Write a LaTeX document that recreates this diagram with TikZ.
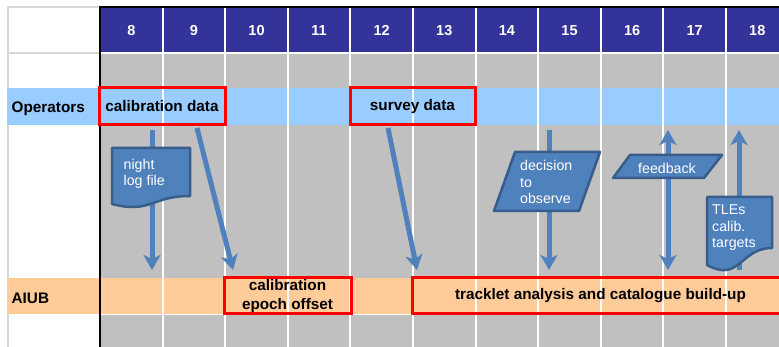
\documentclass[tikz,border=0pt]{standalone}
\usepackage{fontspec}
\setmainfont{Liberation Sans}
\usetikzlibrary{arrows.meta}
\definecolor{hdr}{RGB}{51,51,153}
\definecolor{lblue}{RGB}{153,204,255}
\definecolor{lorange}{RGB}{255,204,153}
\definecolor{cgray}{RGB}{192,192,192}
\definecolor{sfill}{RGB}{79,129,189}
\definecolor{sborder}{RGB}{56,93,138}
\definecolor{lgrid}{RGB}{217,217,217}
\tikzset{
  hdrtext/.style={text=white, font=\fontsize{14.5}{16}\selectfont\bfseries, inner sep=0pt},
  rowlabel/.style={anchor=west, font=\fontsize{15.3}{18}\selectfont\bfseries, inner sep=0pt},
  redbox/.style={draw=red, line width=3pt, font=\fontsize{15.3}{19}\selectfont\bfseries, align=center, inner sep=0pt},
  shapetext/.style={text=white, font=\fontsize{14.2}{16.5}\selectfont, align=left, inner sep=0pt},
  docshape/.style={fill=sfill, draw=sborder, line width=2.5pt, line join=round},
  bluearrow/.style={draw=sfill, line width=5pt, -{Stealth[length=15pt,width=17pt,inset=4pt]}},
  bluedarrow/.style={draw=sfill, line width=5pt, {Stealth[length=15pt,width=17pt,inset=4pt]}-{Stealth[length=15pt,width=17pt,inset=4pt]}},
}
\begin{document}
\begin{tikzpicture}[x=1pt,y=-1pt]
\useasboundingbox (0,0) rectangle (779,347);
\clip (0,0) rectangle (779,347);
\fill[white] (0,0) rectangle (779,347);
% left column borders
\draw[lgrid, line width=2pt] (8,347) -- (8,7) -- (100,7);
\draw[lgrid, line width=2pt] (8,53) -- (100,53);
% rows
\fill[hdr] (100,8) rectangle (789,52);
\fill[cgray] (100,54) rectangle (789,88);
\fill[lblue] (7,88) rectangle (789,125);
\fill[cgray] (100,125) rectangle (789,278);
\fill[lorange] (7,278) rectangle (789,314);
\fill[cgray] (100,315.5) rectangle (789,347);
% column separators
\foreach \i in {1,...,10} \draw[white, line width=2pt] ({100+62.6*\i},8) -- ({100+62.6*\i},347);
% black frame lines
\draw[black, line width=2pt] (100,347) -- (100,7) -- (779,7);
% header numbers
\foreach \n [count=\i from 0] in {8,...,18}
  \node[hdrtext] (h\n) at ({131.3+62.6*\i},30.5) {\n};
% row labels
\node[rowlabel] (ops) at (11.5,108.5) {Operators};
\node[rowlabel] (aiub) at (11.5,298) {AIUB};
% red boxes
\node[redbox, minimum width=126pt, minimum height=37pt] (cal) at (162,106.5) {calibration data};
\node[redbox, minimum width=125pt, minimum height=37pt] (survey) at (412.5,106.5) {survey data};
\node[redbox, minimum width=127pt, minimum height=36pt] (epoch) at (287.5,296) {calibration\\epoch offset};
\node[redbox, minimum width=377pt, minimum height=36pt] (track) at (600.5,296) {tracklet analysis and catalogue build-up};
% arrow end points
\coordinate (a1s) at (152,130); \coordinate (a1e) at (152,270);
\coordinate (a2s) at (197,128); \coordinate (a2e) at (233,270);
\coordinate (a3s) at (388,128); \coordinate (a3e) at (417,270);
\coordinate (a4s) at (549,130); \coordinate (a4e) at (549,270);
\coordinate (a5s) at (668,130); \coordinate (a5e) at (668,270);
\coordinate (a6s) at (739,270); \coordinate (a6e) at (739,130);
% arrows
\draw[bluearrow] (a1s) -- (a1e);
\draw[bluearrow] (a2s) -- (a2e);
\draw[bluearrow] (a3s) -- (a3e);
\draw[bluearrow] (a4s) -- (a4e);
\draw[bluedarrow] (a5s) -- (a5e);
\draw[bluearrow] (a6s) -- (a6e);
% night log file (document)
\draw[docshape] (112,148) -- (190,148) -- (190,196) .. controls (151,196) and (151,214) .. (112,204) -- cycle;
\node[shapetext, anchor=west] (night) at (123.5,174) {night\\log file};
% decision (parallelogram)
\draw[docshape] (515,152) -- (600,152) -- (579,211) -- (494,211) -- cycle;
\node[shapetext, anchor=west] (decision) at (520,182) {decision\\to\\observe};
% feedback (parallelogram)
\draw[docshape] (630,155) -- (722,155) -- (704,178) -- (613,178) -- cycle;
\node[shapetext] (feedback) at (667,168) {feedback};
% TLEs (document)
\draw[docshape] (707,197) -- (772,197) -- (772,248) .. controls (740,248) and (740,283) .. (707,265) -- cycle;
\node[shapetext, anchor=west] (tles) at (712,228) {TLEs\\calib.\\targets};
\end{tikzpicture}
\end{document}
